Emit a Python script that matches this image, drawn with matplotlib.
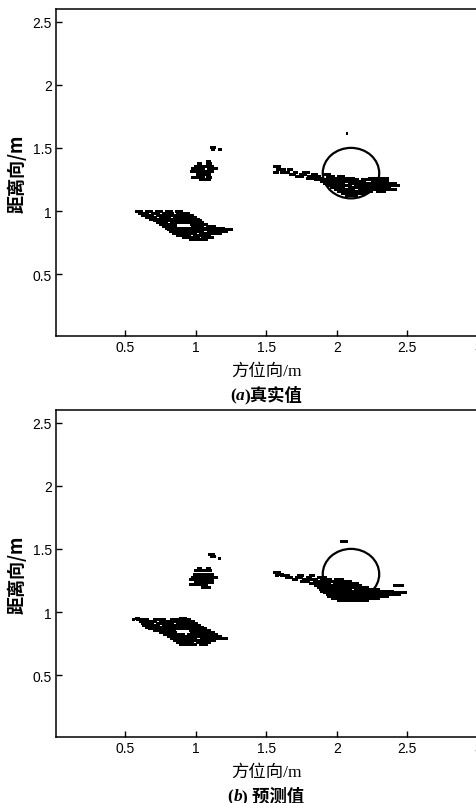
import matplotlib
matplotlib.use("Agg")
import matplotlib.pyplot as plt
from matplotlib.patches import Circle

plt.rcParams['font.family'] = ['Liberation Sans', 'Noto Sans CJK SC', 'DejaVu Sans']

# ---------------- data ----------------
xticks = [0.5, 1, 1.5, 2, 2.5, 3]
xtick_labels = ['0.5', '1', '1.5', '2', '2.5', '3']
yticks = [0.5, 1, 1.5, 2, 2.5]
ytick_labels = ['0.5', '1', '1.5', '2', '2.5']
x_label = '方位向/m'
y_label = '距离向/m'
target_center = (2.1, 1.3)
target_radius = 0.2

# (a) 真实值 — each row: (range y, [(azimuth start, azimuth end), ...])
a_blob_left = [
    (1.000, [(0.57, 0.62), (0.64, 0.69), (0.71, 0.76), (0.78, 0.83), (0.85, 0.90)]),
    (0.985, [(0.59, 0.66), (0.68, 0.74), (0.76, 0.84), (0.86, 0.95)]),
    (0.970, [(0.61, 0.70), (0.72, 0.98)]),
    (0.955, [(0.64, 0.72), (0.74, 0.82), (0.84, 1.00)]),
    (0.940, [(0.67, 0.76), (0.78, 1.02)]),
    (0.925, [(0.70, 1.04)]),
    (0.910, [(0.72, 0.80), (0.82, 1.05)]),
    (0.895, [(0.74, 0.86), (0.96, 1.08)]),
    (0.880, [(0.76, 0.86), (0.97, 1.05), (1.07, 1.14)]),
    (0.865, [(0.78, 1.20)]),
    (0.855, [(0.80, 0.98), (1.00, 1.26)]),
    (0.840, [(0.81, 1.05), (1.08, 1.22)]),
    (0.825, [(0.83, 1.00), (1.02, 1.18)]),
    (0.810, [(0.86, 0.96), (0.98, 1.10)]),
    (0.795, [(0.90, 1.02), (1.04, 1.12)]),
    (0.780, [(0.95, 1.08)]),
]
a_blob_mid = [
    (1.510, [(1.10, 1.14)]),
    (1.495, [(1.11, 1.13), (1.16, 1.18)]),
    (1.400, [(1.07, 1.10)]),
    (1.380, [(1.01, 1.04), (1.07, 1.11)]),
    (1.360, [(0.99, 1.12)]),
    (1.340, [(0.97, 1.06), (1.08, 1.15)]),
    (1.315, [(0.96, 1.12)]),
    (1.295, [(1.00, 1.10)]),
    (1.270, [(0.97, 1.06), (1.07, 1.11)]),
    (1.250, [(1.02, 1.10)]),
]
a_blob_right = [
    (1.620, [(2.065, 2.075)]),
    (1.355, [(1.55, 1.60)]),
    (1.335, [(1.57, 1.63), (1.65, 1.68)]),
    (1.310, [(1.55, 1.58), (1.60, 1.66), (1.69, 1.72), (1.75, 1.80)]),
    (1.295, [(1.66, 1.70), (1.73, 1.78), (1.82, 1.86), (1.90, 1.95)]),
    (1.280, [(1.70, 1.76), (1.79, 1.88), (1.92, 1.98), (2.00, 2.05)]),
    (1.265, [(1.78, 1.90), (1.92, 2.12), (2.22, 2.36)]),
    (1.250, [(1.84, 2.15), (2.17, 2.30)]),
    (1.235, [(1.88, 2.20), (2.24, 2.36)]),
    (1.220, [(1.90, 2.05), (2.08, 2.42)]),
    (1.205, [(1.92, 2.10), (2.12, 2.44)]),
    (1.190, [(1.95, 2.05), (2.08, 2.38)]),
    (1.175, [(1.98, 2.12), (2.15, 2.42)]),
    (1.160, [(2.00, 2.25), (2.28, 2.34)]),
    (1.145, [(2.03, 2.20)]),
    (1.130, [(2.06, 2.14)]),
]

# (b) 预测值
b_blob_left = [
    (0.955, [(0.57, 0.60), (0.88, 0.93)]),
    (0.945, [(0.55, 0.56), (0.58, 0.66), (0.70, 0.78), (0.82, 0.96)]),
    (0.930, [(0.60, 0.72), (0.74, 0.99)]),
    (0.915, [(0.61, 0.70), (0.72, 0.84), (0.86, 1.01)]),
    (0.900, [(0.62, 0.74), (0.76, 1.03)]),
    (0.885, [(0.64, 0.78), (0.80, 1.05)]),
    (0.870, [(0.66, 1.07)]),
    (0.855, [(0.70, 0.85), (0.95, 1.10)]),
    (0.840, [(0.74, 0.86), (0.96, 1.13)]),
    (0.825, [(0.77, 0.92), (0.94, 1.15)]),
    (0.810, [(0.80, 1.18)]),
    (0.795, [(0.82, 1.00), (1.03, 1.22)]),
    (0.780, [(0.84, 1.14)]),
    (0.765, [(0.86, 0.98), (1.00, 1.10)]),
    (0.750, [(0.88, 1.00), (1.02, 1.08)]),
]
b_blob_mid = [
    (1.460, [(1.09, 1.13)]),
    (1.445, [(1.10, 1.14)]),
    (1.430, [(1.16, 1.175)]),
    (1.350, [(1.01, 1.04), (1.07, 1.10)]),
    (1.330, [(0.99, 1.05), (1.06, 1.11)]),
    (1.305, [(0.98, 1.12)]),
    (1.280, [(0.97, 1.15)]),
    (1.260, [(0.95, 1.12)]),
    (1.240, [(0.99, 1.12)]),
    (1.220, [(0.95, 1.00), (1.01, 1.08)]),
    (1.200, [(1.04, 1.10)]),
]
b_blob_right = [
    (1.560, [(2.02, 2.07)]),
    (1.320, [(1.55, 1.60)]),
    (1.305, [(1.57, 1.62)]),
    (1.290, [(1.56, 1.58), (1.60, 1.66), (1.72, 1.76), (1.80, 1.84)]),
    (1.275, [(1.63, 1.68), (1.70, 1.75), (1.78, 1.82), (1.86, 1.92)]),
    (1.260, [(1.68, 1.72), (1.75, 1.86), (1.88, 1.96), (1.98, 2.04)]),
    (1.245, [(1.74, 1.80), (1.83, 2.10)]),
    (1.230, [(1.80, 1.95), (1.97, 2.15)]),
    (1.215, [(1.84, 2.17), (2.40, 2.47)]),
    (1.200, [(1.86, 2.22)]),
    (1.185, [(1.87, 2.10), (2.12, 2.30)]),
    (1.170, [(1.88, 2.40)]),
    (1.155, [(1.90, 2.20), (2.22, 2.49)]),
    (1.140, [(1.92, 2.45)]),
    (1.125, [(1.93, 2.36)]),
    (1.110, [(1.96, 2.30)]),
    (1.095, [(2.00, 2.22)]),
]

panels = [
    ([a_blob_left, a_blob_mid, a_blob_right], 'a', ')真实值'),
    ([b_blob_left, b_blob_mid, b_blob_right], 'b', ') 预测值'),
]

# ---------------- figure ----------------
W, H = 477, 804
fig = plt.figure(figsize=(W / 100, H / 100), dpi=100)

axes_px = [(10, 337), (411, 738)]  # top, bottom in pixels
left_px = 56

def draw_rows(ax, rows):
    for y, segs in rows:
        for x0, x1 in segs:
            ax.hlines(y, x0, x1, colors='black', linewidth=0.9, antialiased=False)

def composite(parts, xc_px, base_px):
    r = fig.canvas.get_renderer()
    texts = [fig.text(0, 1 - base_px / H, s, va='baseline', ha='left', **kw) for s, kw in parts]
    widths = [t.get_window_extent(r).width for t in texts]
    x = xc_px - sum(widths) / 2
    for t, w in zip(texts, widths):
        t.set_x(x / W)
        x += w

serif = ['Liberation Serif', 'Noto Sans CJK SC']
for (top, bot), (clusters, letter, rest) in zip(axes_px, panels):
    ax = fig.add_axes([left_px / W, 1 - bot / H, (W - left_px + 1) / W, (bot - top) / H])
    for rows in clusters:
        draw_rows(ax, rows)
    ax.add_patch(Circle(target_center, target_radius, fill=False, edgecolor='black', linewidth=1.6))
    ax.set_xlim(0.01, 3.0)
    ax.set_ylim(0.01, 2.6)
    ax.set_xticks(xticks)
    ax.set_xticklabels(xtick_labels)
    ax.set_yticks(yticks)
    ax.set_yticklabels(ytick_labels)
    ax.tick_params(direction='in', length=4, width=1, labelsize=10, pad=3,
                   top=False, right=False)
    for sp in ax.spines.values():
        sp.set_linewidth(1.1)
    ax.text(-0.093, 0.5, y_label, rotation=90, transform=ax.transAxes,
            ha='center', va='center', fontsize=13, fontweight='bold',
            family=['Noto Sans CJK SC', 'DejaVu Sans'])
    composite([(x_label, dict(fontsize=12.5, family=serif))], 266, bot + 39)
    composite([('(', dict(fontsize=12.5, family=serif, fontweight='bold')),
               (letter, dict(fontsize=12.5, family=serif, fontweight='bold', style='italic')),
               (rest, dict(fontsize=12.5, family=serif, fontweight='bold'))], 266, bot + 63)

fig.savefig('out.png', dpi=100)
